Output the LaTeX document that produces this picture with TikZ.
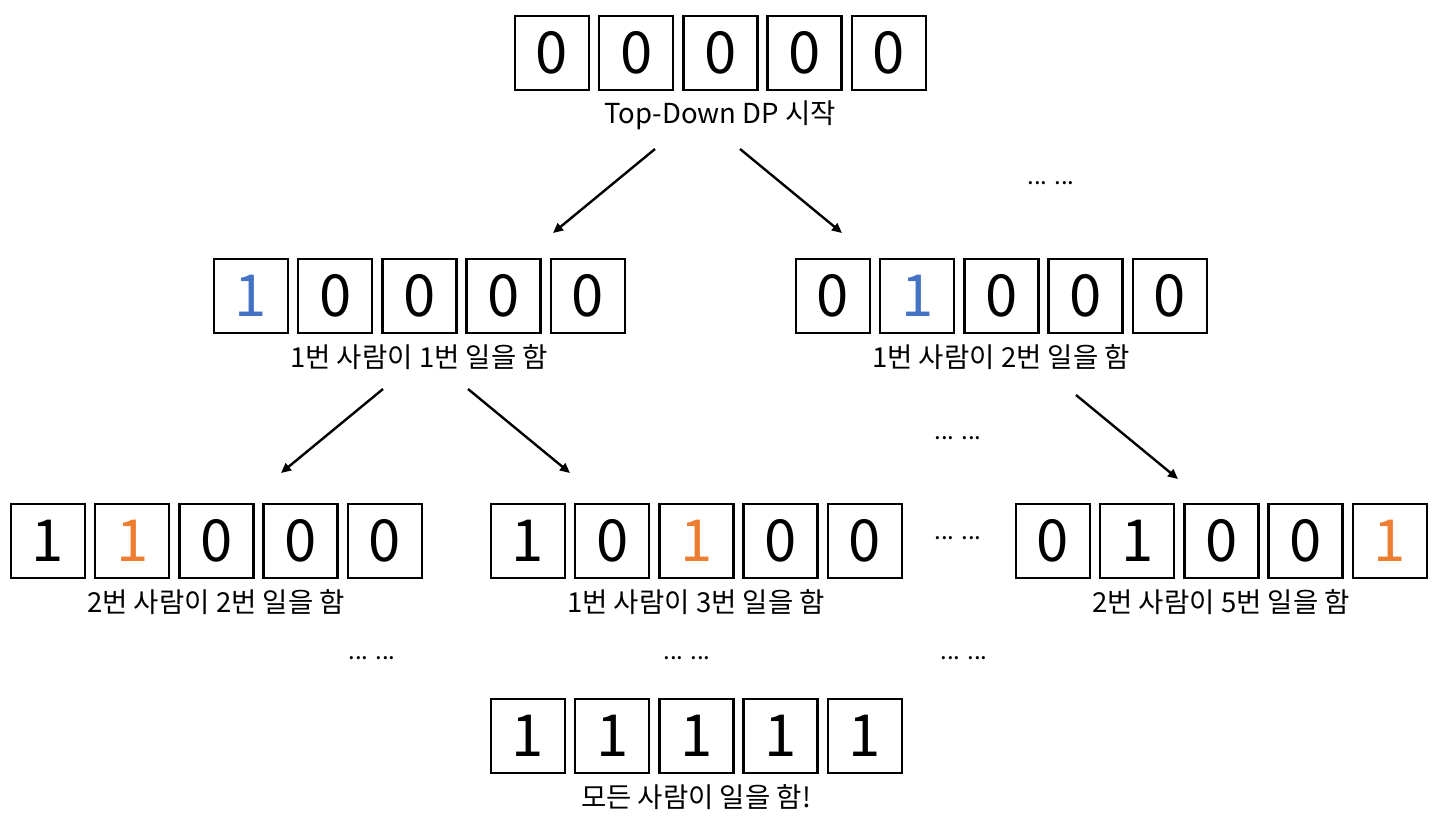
\documentclass[tikz,border=0pt]{standalone}
\usepackage{fontspec}
\setmainfont{Noto Sans CJK KR}
\usetikzlibrary{arrows.meta}
\definecolor{blueone}{HTML}{4472C4}
\definecolor{orangeone}{HTML}{ED7D31}
\newcommand\cellrow[4]{%
  \foreach \d [count=\i] in {#4} {
    \node[cell] (#1\i) at ({#2+38+(\i-1)*84.2},{#3+38}) {\d};
  }%
}
\newcommand\bl{\textcolor{blueone}{1}}
\newcommand\orr{\textcolor{orangeone}{1}}
\begin{document}
\begin{tikzpicture}[x=1pt,y=-1pt,
  cell/.style={draw=black,line width=2.3pt,minimum width=74pt,minimum height=74pt,inner sep=0pt,
    font=\fontsize{58}{60}\selectfont},
  lab/.style={anchor=base,inner sep=0pt,font=\fontsize{27.5}{30}\selectfont},
  dots/.style={inner sep=0pt,font=\fontsize{24}{26}\selectfont},
  arr/.style={line width=2.4pt,-{Triangle[length=10pt,width=9pt]}}]
\useasboundingbox (0,0) rectangle (1450,818);
% rows
\cellrow{a}{514}{15}{0,0,0,0,0}
\cellrow{b}{213}{258}{\bl,0,0,0,0}
\cellrow{c}{795}{258}{0,\bl,0,0,0}
\cellrow{d}{10}{503}{1,\orr,0,0,0}
\cellrow{e}{490}{503}{1,0,\orr,0,0}
\cellrow{f}{1015}{503}{0,1,0,0,\orr}
\cellrow{g}{490}{698}{1,1,1,1,1}
% labels
\node[lab] (la) at (720,124) {Top-Down DP 시작};
\node[lab] (lb) at (419,367) {1번 사람이 1번 일을 함};
\node[lab] (lc) at (1001,367) {1번 사람이 2번 일을 함};
\node[lab] (ld) at (216,612) {2번 사람이 2번 일을 함};
\node[lab] (le) at (696,612) {1번 사람이 3번 일을 함};
\node[lab] (lf) at (1221,612) {2번 사람이 5번 일을 함};
\node[lab] (lg) at (696,807) {모든 사람이 일을 함!};
% dots
\node[dots] (d1) at (1051,183) {... ...};
\node[dots] (d2) at (958,438) {... ...};
\node[dots] (d3) at (958,538) {... ...};
\node[dots] (d4) at (372,658) {... ...};
\node[dots] (d5) at (687,658) {... ...};
\node[dots] (d6) at (964,658) {... ...};
% arrows
\coordinate (s1) at (655,149); \coordinate (t1) at (553,233);
\coordinate (s2) at (740,149); \coordinate (t2) at (842,233);
\coordinate (s3) at (383,389); \coordinate (t3) at (281,473);
\coordinate (s4) at (468,389); \coordinate (t4) at (570,473);
\coordinate (s5) at (1076,395); \coordinate (t5) at (1178,479);
\draw[arr] (s1) -- (t1);
\draw[arr] (s2) -- (t2);
\draw[arr] (s3) -- (t3);
\draw[arr] (s4) -- (t4);
\draw[arr] (s5) -- (t5);
\end{tikzpicture}
\end{document}
